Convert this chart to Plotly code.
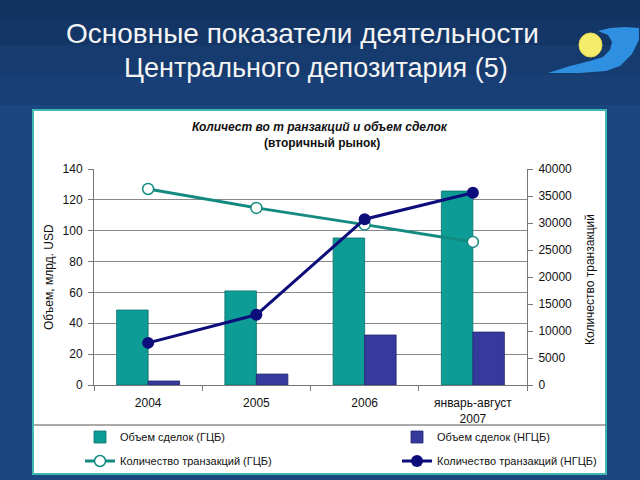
import plotly.graph_objects as go

# ---- data ----
categories = ["2004", "2005", "2006", "январь-август<br>2007"]
vol_gcb = [48.6, 61, 95.3, 125.7]
vol_ngcb = [2.6, 7.1, 32.4, 34.3]
trans_gcb = [36300, 32800, 29700, 26500]
trans_ngcb = [7800, 13000, 30700, 35600]

W, H = 640, 480
def px(x): return x / W
def py(y): return 1 - y / H

FONT = "Liberation Sans, Arial, sans-serif"

fig = go.Figure()
fig.add_trace(go.Bar(x=categories, y=vol_gcb, name="Объем сделок (ГЦБ)",
                     marker=dict(color="#0e9c96", line=dict(color="#0b6f6b", width=0.8)),
                     legend="legend", showlegend=True))
fig.add_trace(go.Bar(x=categories, y=vol_ngcb, name="Объем сделок (НГЦБ)",
                     marker=dict(color="#363a9c", line=dict(color="#22266e", width=0.8)),
                     legend="legend2", showlegend=True))
fig.add_trace(go.Scatter(x=categories, y=trans_gcb, yaxis="y2", mode="lines+markers",
                         name="Количество транзакций (ГЦБ)",
                         line=dict(color="#138a80", width=3),
                         marker=dict(size=11, color="white", line=dict(color="#138a80", width=1.5)),
                         legend="legend3", showlegend=True))
fig.add_trace(go.Scatter(x=categories, y=trans_ngcb, yaxis="y2", mode="lines+markers",
                         name="Количество транзакций (НГЦБ)",
                         line=dict(color="#0c0c7a", width=3),
                         marker=dict(size=12, color="#0c0c7a"),
                         legend="legend4", showlegend=True))

shapes = []
# background gradient overlay (darker at top)
bands = [(0, 20, 0.45), (20, 45, 0.35), (45, 75, 0.25), (75, 105, 0.12)]
for y0, y1, op in bands:
    shapes.append(dict(type="rect", xref="paper", yref="paper", x0=0, x1=1,
                       y0=py(y1), y1=py(y0), fillcolor="#061a3a", opacity=op,
                       line=dict(width=0), layer="below"))
# white panel
shapes.append(dict(type="rect", xref="paper", yref="paper", x0=px(33), x1=px(606),
                   y0=py(474), y1=py(110), fillcolor="white",
                   line=dict(color="#3fb8b4", width=2), layer="below"))
# legend separator
shapes.append(dict(type="line", xref="paper", yref="paper", x0=px(34), x1=px(606),
                   y0=py(425), y1=py(425), line=dict(color="#555555", width=1), layer="below"))

# logo swoosh
def path(points):
    return "M " + " L ".join(f"{px(x):.4f},{py(y):.4f}" for x, y in points) + " Z"
swoosh = [(548, 73), (570, 66), (590, 61), (603, 57), (610, 50), (612, 42), (608, 35),
          (598, 31), (610, 28), (625, 27), (639, 28), (639, 40), (632, 54), (620, 66),
          (606, 71), (580, 73)]
shapes.append(dict(type="path", xref="paper", yref="paper", path=path(swoosh),
                   fillcolor="#2f8fe0", line=dict(width=0), layer="above"))
shapes.append(dict(type="circle", xref="paper", yref="paper",
                   x0=px(579), x1=px(602), y0=py(57), y1=py(33),
                   fillcolor="#f4ec6a", line=dict(color="#e8d84a", width=1), layer="above"))

annotations = [
    dict(text="Основные показатели деятельности", x=px(302), y=py(34), xref="paper", yref="paper",
         showarrow=False, font=dict(family=FONT, size=28, color="#f4f4f4"), xanchor="center", yanchor="middle"),
    dict(text="Центрального депозитария (5)", x=px(316), y=py(68), xref="paper", yref="paper",
         showarrow=False, font=dict(family=FONT, size=27, color="#f4f4f4"), xanchor="center", yanchor="middle"),
    dict(text="<b><i>Количест во т ранзакций и объем сделок</i></b>", x=px(320), y=py(127),
         xref="paper", yref="paper", showarrow=False,
         font=dict(family=FONT, size=12, color="#111"), xanchor="center", yanchor="middle"),
    dict(text="<b>(вторичный рынок)</b>", x=px(322), y=py(143),
         xref="paper", yref="paper", showarrow=False,
         font=dict(family=FONT, size=12, color="#111"), xanchor="center", yanchor="middle"),
    dict(text="Объем, млрд. USD", x=px(49), y=py(277), xref="paper", yref="paper",
         showarrow=False, textangle=-90,
         font=dict(family=FONT, size=12, color="#111"), xanchor="center", yanchor="middle"),
    dict(text="Количество транзакций", x=px(590), y=py(280), xref="paper", yref="paper",
         showarrow=False, textangle=-90,
         font=dict(family=FONT, size=12, color="#111"), xanchor="center", yanchor="middle"),
]

def leg(x, y):
    return dict(orientation="h", x=px(x), y=py(y), xanchor="left", yanchor="middle",
                bgcolor="rgba(0,0,0,0)", font=dict(size=11, color="#111"))

fig.update_layout(
    width=W, height=H, margin=dict(l=0, r=0, t=0, b=0, autoexpand=False),
    paper_bgcolor="#1b4680", plot_bgcolor="white", showlegend=True,
    font=dict(family=FONT, size=12, color="#111"),
    barmode="group", bargap=0.418, bargroupgap=0,
    xaxis=dict(domain=[px(94), px(527)], type="category", showline=True, linecolor="#777",
               ticks="outside", tickson="boundaries", ticklen=5, tickcolor="#777",
               ticklabelstandoff=7,
               tickfont=dict(size=12, color="#111"), showgrid=False, automargin=False),
    yaxis=dict(domain=[py(385), py(169)], range=[0, 140], dtick=20, showline=True, linecolor="#777",
               ticks="outside", ticklen=5, tickcolor="#777", gridcolor="#888", gridwidth=1,
               ticklabelstandoff=3,
               tickfont=dict(size=12, color="#111"), zeroline=False, automargin=False),
    yaxis2=dict(overlaying="y", side="right", range=[0, 40000], dtick=5000, tickformat="d",
                showline=True, linecolor="#777", ticks="outside", ticklen=5, tickcolor="#777",
                ticklabelstandoff=3,
                showgrid=False, tickfont=dict(size=12, color="#111"), zeroline=False,
                anchor="x", automargin=False),
    legend=leg(80, 437), legend2=leg(397, 437), legend3=leg(80, 461), legend4=leg(397, 461),
    shapes=shapes, annotations=annotations,
)

fig.write_html("out.html")
